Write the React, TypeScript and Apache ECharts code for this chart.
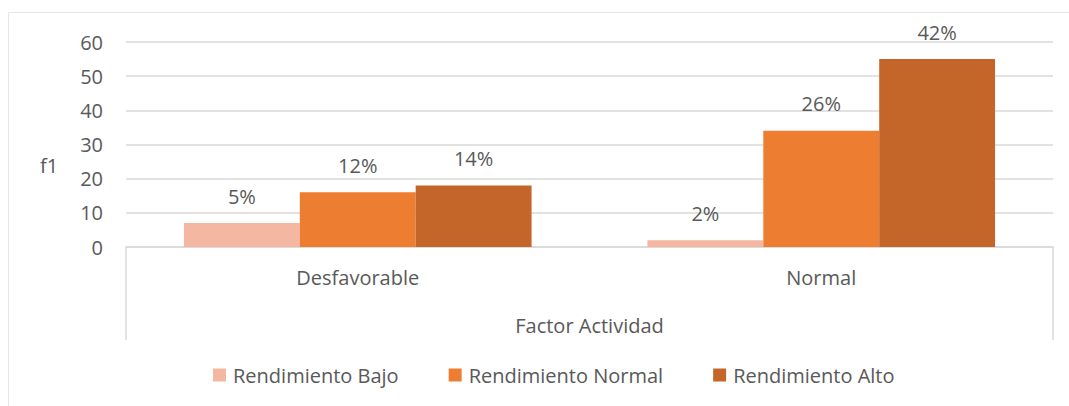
import React, { useEffect, useRef } from "react";
import * as echarts from "echarts";

const categories = ["Desfavorable", "Normal"];
const seriesNames = ["Rendimiento Bajo", "Rendimiento Normal", "Rendimiento Alto"];
const bajoValues = [7, 2];
const normalValues = [16, 34];
const altoValues = [18, 55];
const bajoLabels = ["5%", "2%"];
const normalLabels = ["12%", "26%"];
const altoLabels = ["14%", "42%"];
const yTicks = [0, 10, 20, 30, 40, 50, 60];
const colors = ["#F4B7A1", "#ED7D31", "#C4652A"];

const FONT = "'Open Sans', 'Noto Sans', sans-serif";
const TEXT = "#595959";
const FS = 20;

export default function App() {
  const ref = useRef<HTMLDivElement>(null);
  useEffect(() => {
    if (!ref.current) return;
    const chart = echarts.init(ref.current, undefined, { renderer: "svg" });
    const gridLeft = 126;
    const gridRight = 16;
    const gridTop = 42;
    const gridBottom = 159;
    const W = 1069;
    const H = 406;
    const axisY = H - gridBottom;
    const mk = (name: string, vals: number[], labels: string[], color: string) => ({
      name,
      type: "bar",
      data: vals,
      itemStyle: { color },
      barGap: "0%",
      barCategoryGap: "25%",
      label: {
        show: true,
        position: "top",
        distance: 17,
        formatter: (p: any) => labels[p.dataIndex],
        color: TEXT,
        fontSize: FS,
        fontFamily: FONT,
      },
    });
    chart.setOption({
      animation: false,
      backgroundColor: "#fff",
      textStyle: { fontFamily: FONT },
      grid: { left: gridLeft, right: gridRight, top: gridTop, bottom: gridBottom },
      legend: {
        bottom: 16,
        left: 208,
        itemWidth: 13,
        itemHeight: 13,
        itemGap: 50,
        icon: "rect",
        textStyle: { color: TEXT, fontSize: FS, fontFamily: FONT, padding: [0, 0, 0, 2] },
        data: seriesNames,
      },
      xAxis: {
        type: "category",
        data: categories,
        axisLine: { show: true, lineStyle: { color: "#D9D9D9", width: 1.5 } },
        axisTick: { show: false },
        axisLabel: { color: TEXT, fontSize: FS, fontFamily: FONT, margin: 20 },
        name: "Factor Actividad",
        nameLocation: "middle",
        nameGap: 68,
        nameTextStyle: { color: TEXT, fontSize: FS, fontFamily: FONT },
      },
      yAxis: {
        type: "value",
        min: yTicks[0],
        max: yTicks[yTicks.length - 1],
        interval: 10,
        axisLine: { show: false },
        axisTick: { show: false },
        splitLine: { lineStyle: { color: "#D9D9D9", width: 1.5 } },
        axisLabel: { color: TEXT, fontSize: FS, fontFamily: FONT, margin: 23 },
      },
      graphic: [
        {
          type: "rect",
          shape: { x: 8.5, y: 12.5, width: W + 10, height: H + 10 },
          style: { fill: "none", stroke: "#E6E6E6", lineWidth: 1 },
          silent: true,
        },
        {
          type: "line",
          shape: { x1: gridLeft, y1: axisY, x2: gridLeft, y2: 340 },
          style: { stroke: "#D9D9D9", lineWidth: 1.5 },
          silent: true,
        },
        {
          type: "line",
          shape: { x1: W - gridRight, y1: axisY, x2: W - gridRight, y2: 340 },
          style: { stroke: "#D9D9D9", lineWidth: 1.5 },
          silent: true,
        },
        {
          type: "text",
          left: 40,
          top: 155,
          style: { text: "f1", fill: TEXT, fontSize: FS, fontFamily: FONT },
          silent: true,
        },
      ],
      series: [
        mk(seriesNames[0], bajoValues, bajoLabels, colors[0]),
        mk(seriesNames[1], normalValues, normalLabels, colors[1]),
        mk(seriesNames[2], altoValues, altoLabels, colors[2]),
      ],
    });
    return () => chart.dispose();
  }, []);
  return (
    <div
      ref={ref}
      style={{ position: "absolute", left: 0, top: 0, width: 1069, height: 406 }}
    />
  );
}
